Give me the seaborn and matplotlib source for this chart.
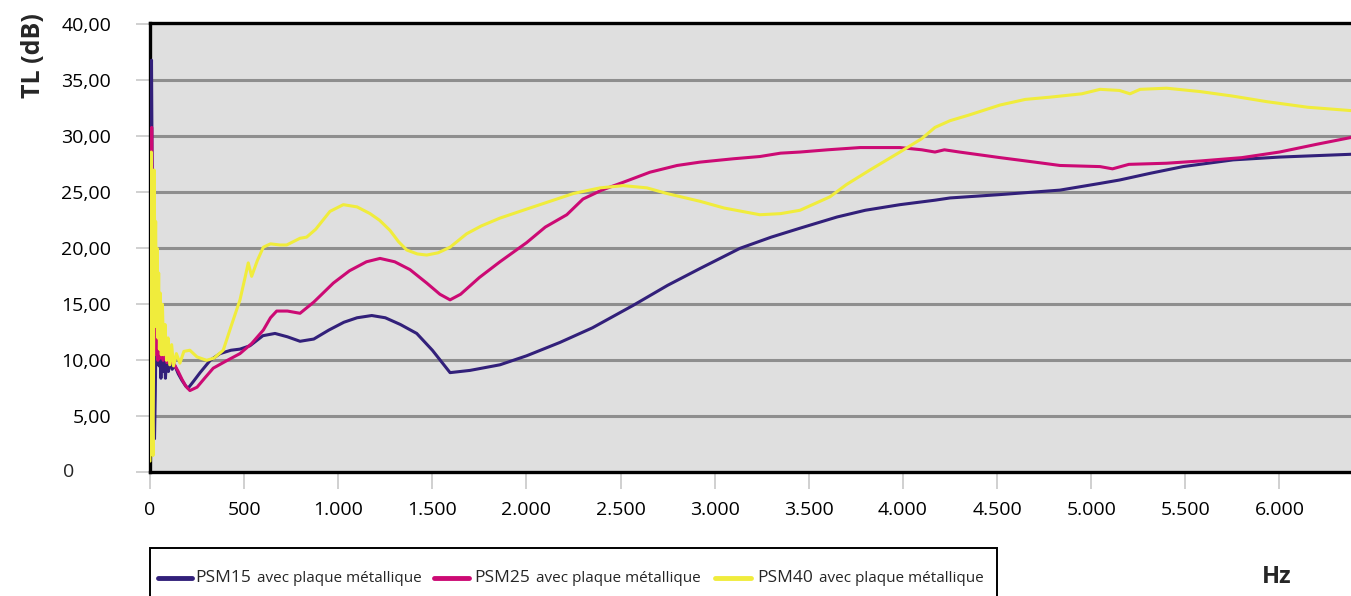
import matplotlib
matplotlib.use("Agg")
import matplotlib.pyplot as plt
import seaborn as sns
from matplotlib.lines import Line2D
from matplotlib.patches import Rectangle

# data (Hz, TL in dB)
psm15_hz = [0, 4, 8, 12, 16, 20, 24, 28, 33, 38, 43, 48, 53, 58, 63, 68, 75, 82, 90, 98,
            108, 118, 130, 150, 170, 190, 202, 230, 266, 320, 372, 430, 478, 531, 600, 664,
            730, 797, 870, 950, 1030, 1100, 1178, 1250, 1330, 1417, 1500, 1594, 1700, 1859,
            2000, 2178, 2350, 2566, 2750, 2922, 3134, 3300, 3453, 3650, 3800, 3984, 4170,
            4250, 4516, 4834, 5047, 5150, 5313, 5488, 5754, 6000, 6380]
psm15_db = [12, 30, 36.8, 25, 10, 3.2, 3.0, 7, 13.8, 11.5, 13.2, 9.5, 12.0, 8.4, 11.6, 9.0,
            11.2, 8.4, 10.8, 9.0, 10.2, 9.2, 9.6, 8.8, 8.2, 7.7, 7.5, 8.1, 8.9, 10.0, 10.6,
            10.9, 11.0, 11.3, 12.2, 12.4, 12.1, 11.7, 11.9, 12.7, 13.4, 13.8, 14.0, 13.8,
            13.2, 12.4, 10.9, 8.9, 9.1, 9.6, 10.4, 11.6, 12.9, 14.9, 16.7, 18.2, 20.0, 21.0,
            21.8, 22.8, 23.4, 23.9, 24.3, 24.5, 24.8, 25.2, 25.8, 26.1, 26.7, 27.3, 27.9,
            28.15, 28.4]

psm25_hz = [0, 4, 9, 13, 18, 22, 27, 32, 37, 42, 48, 55, 62, 70, 80, 90, 100, 115, 130, 150,
            170, 190, 212, 250, 290, 336, 400, 478, 540, 602, 640, 673, 730, 797, 870, 974,
            1060, 1150, 1222, 1300, 1381, 1470, 1540, 1594, 1650, 1750, 1859, 2000, 2100,
            2214, 2300, 2400, 2514, 2656, 2800, 2922, 3100, 3240, 3350, 3453, 3600, 3772,
            3984, 4100, 4170, 4220, 4300, 4516, 4700, 4834, 5047, 5113, 5200, 5400, 5578,
            5800, 6000, 6200, 6380]
psm25_db = [10, 22, 30.8, 22, 14, 12, 13.5, 10.5, 12.8, 10.0, 12.2, 10.2, 11.6, 10.0, 11.0,
            9.8, 10.5, 9.8, 9.6, 9.0, 8.3, 7.7, 7.3, 7.6, 8.4, 9.3, 9.9, 10.6, 11.5, 12.7,
            13.8, 14.4, 14.4, 14.2, 15.2, 16.9, 18.0, 18.8, 19.1, 18.8, 18.1, 16.9, 15.9,
            15.4, 15.9, 17.4, 18.8, 20.5, 21.9, 23.0, 24.4, 25.2, 25.9, 26.8, 27.4, 27.7,
            28.0, 28.2, 28.5, 28.6, 28.8, 29.0, 29.0, 28.8, 28.6, 28.8, 28.6, 28.1, 27.7,
            27.4, 27.3, 27.1, 27.5, 27.6, 27.8, 28.1, 28.6, 29.3, 29.9]

psm40_hz = [0, 4, 7, 10, 13, 16, 19, 22, 26, 30, 34, 38, 42, 46, 50, 55, 60, 66, 72, 80, 88,
            96, 105, 115, 125, 140, 159, 180, 212, 250, 301, 340, 389, 430, 478, 505, 522,
            540, 570, 602, 640, 690, 726, 797, 832, 880, 956, 1027, 1100, 1169, 1220, 1275,
            1320, 1364, 1420, 1470, 1530, 1594, 1682, 1760, 1859, 2000, 2125, 2250, 2391,
            2514, 2640, 2745, 2922, 3050, 3240, 3350, 3453, 3612, 3700, 3825, 3984, 4100,
            4170, 4250, 4350, 4516, 4650, 4781, 4950, 5047, 5150, 5206, 5260, 5401, 5578,
            5750, 5932, 6150, 6380]
psm40_db = [1.0, 15, 28.6, 20, 5, 1.5, 10, 27, 18, 22.4, 13, 20, 12, 17.8, 11, 16, 10.5, 15,
            10.5, 13.2, 10.0, 12.0, 9.6, 11.4, 9.5, 10.6, 9.75, 10.8, 10.9, 10.3, 10.0, 10.2,
            10.9, 13.0, 15.4, 17.4, 18.7, 17.5, 18.9, 20.1, 20.4, 20.3, 20.3, 20.9, 21.0,
            21.7, 23.3, 23.9, 23.7, 23.1, 22.5, 21.6, 20.6, 19.85, 19.5, 19.4, 19.6, 20.1,
            21.3, 22.0, 22.7, 23.5, 24.2, 24.9, 25.4, 25.6, 25.4, 24.9, 24.2, 23.6, 23.0,
            23.1, 23.4, 24.6, 25.7, 27.0, 28.6, 29.8, 30.8, 31.4, 31.9, 32.8, 33.3, 33.5,
            33.8, 34.2, 34.1, 33.8, 34.2, 34.3, 34.0, 33.6, 33.1, 32.6, 32.3]

series_names = ["PSM15", "PSM25", "PSM40"]
series_suffix = "avec plaque métallique"
colors = ["#32207A", "#CC0A74", "#F0EC3C"]

y_ticks = [0, 5, 10, 15, 20, 25, 30, 35, 40]
y_labels = ["", "5,00", "10,00", "15,00", "20,00", "25,00", "30,00", "35,00", "40,00"]
x_ticks = [0, 500, 1000, 1500, 2000, 2500, 3000, 3500, 4000, 4500, 5000, 5500, 6000]
x_labels = ["0", "500", "1.000", "1.500", "2.000", "2.500", "3.000", "3.500", "4.000",
            "4.500", "5.000", "5.500", "6.000"]

sns.set_theme(style="white")
plt.rcParams["font.family"] = ["Open Sans", "DejaVu Sans"]

W, H = 1351, 596
fig = plt.figure(figsize=(W / 100, H / 100), dpi=100)
ax = fig.add_axes([150 / W, (H - 472.3) / H, 1.0 - 150 / W, (472.3 - 22.7) / H])
ax.set_facecolor("#DFDFDF")

for y in y_ticks[1:-1]:
    ax.axhline(y, color="#8E8E8E", lw=2.2, zorder=1)

for hz, db, c in zip([psm15_hz, psm25_hz, psm40_hz], [psm15_db, psm25_db, psm40_db], colors):
    sns.lineplot(x=hz, y=db, ax=ax, color=c, linewidth=2.2, sort=False, estimator=None, zorder=3)

ax.set_xlim(0, 6380)
ax.set_ylim(0, 40.15)
ax.set_xticks(x_ticks)
ax.set_xticklabels(x_labels)
ax.set_yticks(y_ticks)
ax.set_yticklabels(y_labels)
ax.tick_params(axis="both", which="major", direction="out", color="#C8C8C8", width=1.2,
               labelsize=14, labelcolor="black")
ax.tick_params(axis="x", length=12, pad=9, bottom=True)
ax.tick_params(axis="y", length=10, pad=18, left=True)
ax.set_xlabel("")
ax.set_ylabel("")

for side in ["left", "bottom", "top"]:
    ax.spines[side].set_visible(True)
    ax.spines[side].set_color("black")
    ax.spines[side].set_linewidth(2.4)
ax.spines["right"].set_visible(False)

# "0" label of the y axis sits further left in the reference
fig.text(63 / W, (H - 472.3) / H, "0", ha="left", va="center", fontsize=14)

fig.text(33 / W, (H - 56) / H, "TL (dB)", rotation=90, ha="center", va="center",
         fontsize=18, fontweight="bold")
fig.text(1277 / W, (H - 577) / H, "Hz", ha="center", va="center", fontsize=17, fontweight="bold")

# legend box along the bottom
fig.add_artist(Rectangle((150 / W, -0.05), (997 - 150) / W, 0.05 + (H - 548) / H,
                         transform=fig.transFigure, facecolor="white", edgecolor="black",
                         linewidth=1.4))
leg_y = (H - 578) / H
line_x = [(158, 192), (434, 469), (715, 751)]
name_x = [195, 474, 757]
renderer = fig.canvas.get_renderer()
for (x0, x1), nx, name, c in zip(line_x, name_x, series_names, colors):
    fig.add_artist(Line2D([x0 / W, x1 / W], [leg_y, leg_y], transform=fig.transFigure,
                          color=c, linewidth=3.5))
    t = fig.text(nx / W, leg_y, name, ha="left", va="center", fontsize=12.5)
    end_px = t.get_window_extent(renderer).x1
    fig.text((end_px + 6) / W, leg_y, series_suffix, ha="left", va="center", fontsize=11)

fig.savefig("out.png", dpi=100)
